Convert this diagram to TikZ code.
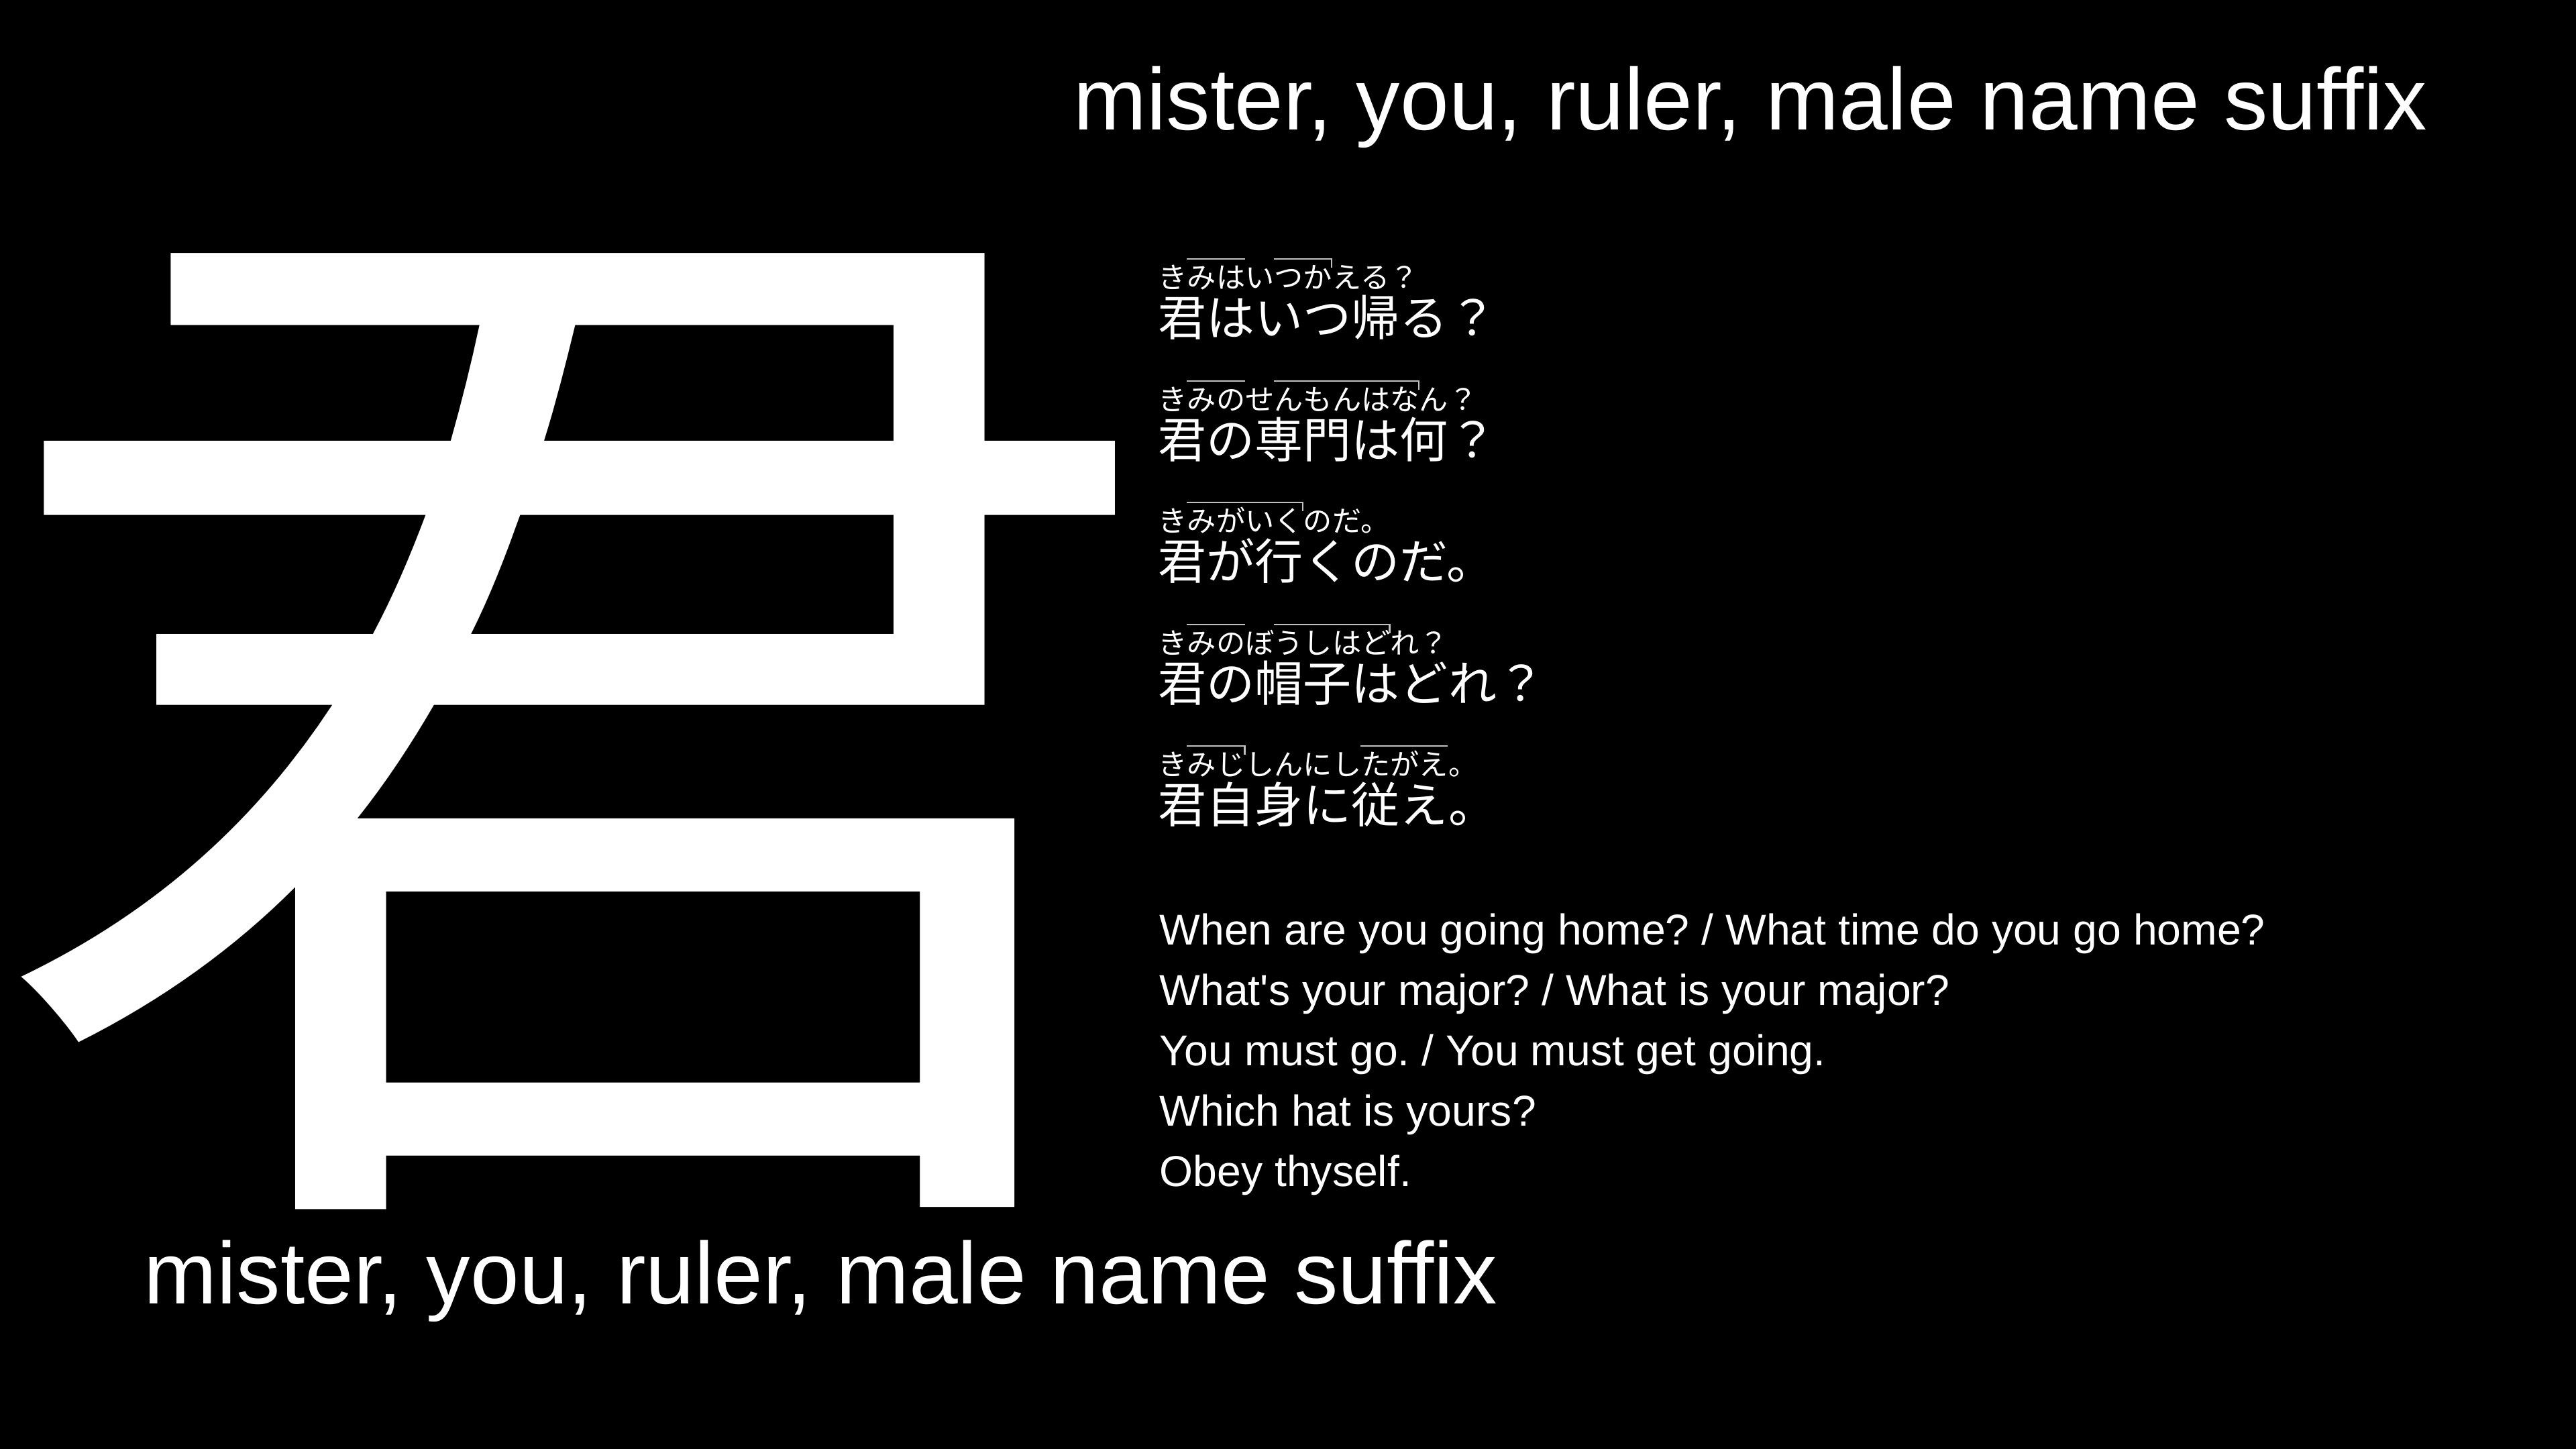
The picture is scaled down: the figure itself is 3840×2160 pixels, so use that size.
\documentclass[tikz,border=0pt]{standalone}
\usepackage{fontspec}
\setmainfont{Liberation Sans}
\newfontfamily\jpfont{Noto Sans CJK JP}
\usepackage{xcolor}
\usetikzlibrary{calc}
\definecolor{accentgray}{RGB}{192,192,192}
\tikzstyle{gloss} = [white,inner sep=0pt,anchor=base west,font=\fontsize{37.2pt}{40pt}\selectfont]
\tikzstyle{kana} = [white,inner sep=0pt,anchor=base west,font=\jpfont\fontsize{12.3pt}{14pt}\selectfont]
\tikzstyle{sentence} = [white,inner sep=0pt,anchor=base west,font=\jpfont\fontsize{20.5pt}{24pt}\selectfont]
\tikzstyle{english} = [white,inner sep=0pt,anchor=base west,font=\fontsize{18.3pt}{22pt}\selectfont\frenchspacing]
\tikzstyle{pitch} = [accentgray,line width=0.23mm]

\begin{document}
\begin{tikzpicture}[x=0.1mm,y=-0.1mm]
\useasboundingbox (0,0) rectangle (3840,2160);
\fill[black] (0,0) rectangle (3840,2160);

\node[white,inner sep=0pt,xscale=1.08,yscale=0.985,font=\jpfont\fontsize{470pt}{470pt}\selectfont] (kun) at (861,1090) {君};

\node[gloss] (meaning) at (1600,193) {mister, you, ruler, male name suffix};
\node[gloss] (meaningbelow) at (214,1943) {mister, you, ruler, male name suffix};

% reading above, sentence below
\node[kana] (k1) at (1726,429) {きみはいつかえる？};
\node[sentence] (s1) at (1726,500) {君はいつ帰る？};
\node[kana] (k2) at (1726,611) {きみのせんもんはなん？};
\node[sentence] (s2) at (1726,682) {君の専門は何？};
\node[kana] (k3) at (1726,792) {きみがいくのだ。};
\node[sentence] (s3) at (1726,863) {君が行くのだ。};
\node[kana] (k4) at (1726,974) {きみのぼうしはどれ？};
\node[sentence] (s4) at (1726,1045) {君の帽子はどれ？};
\node[kana] (k5) at (1726,1155) {きみじしんにしたがえ。};
\node[sentence] (s5) at (1726,1226) {君自身に従え。};

% pitch accent
\draw[pitch] ($(k1.base west)+(43.2,-43)$) -- ($(k1.base west)+(129.6,-43)$);
\draw[pitch] ($(k1.base west)+(172.8,-43)$) -- ($(k1.base west)+(259.2,-43)$) -- ++(0,13);
\draw[pitch] ($(k2.base west)+(43.2,-43)$) -- ($(k2.base west)+(129.6,-43)$);
\draw[pitch] ($(k2.base west)+(172.8,-43)$) -- ($(k2.base west)+(388.8,-43)$) -- ++(0,13);
\draw[pitch] ($(k3.base west)+(43.2,-43)$) -- ($(k3.base west)+(216,-43)$) -- ++(0,13);
\draw[pitch] ($(k4.base west)+(43.2,-43)$) -- ($(k4.base west)+(129.6,-43)$);
\draw[pitch] ($(k4.base west)+(172.8,-43)$) -- ($(k4.base west)+(345.6,-43)$) -- ++(0,13);
\draw[pitch] ($(k5.base west)+(43.2,-43)$) -- ($(k5.base west)+(129.6,-43)$) -- ++(0,13);
\draw[pitch] ($(k5.base west)+(302.4,-43)$) -- ($(k5.base west)+(432,-43)$);

\node[english] (e1) at (1728,1408) {When are you going home? / What time do you go home?};
\node[english] (e2) at (1728,1498) {What\textquotesingle s your major? / What is your major?};
\node[english] (e3) at (1728,1588) {You must go. / You must get going.};
\node[english] (e4) at (1728,1678) {Which hat is yours?};
\node[english] (e5) at (1728,1768) {Obey thyself.};
\end{tikzpicture}
\end{document}
